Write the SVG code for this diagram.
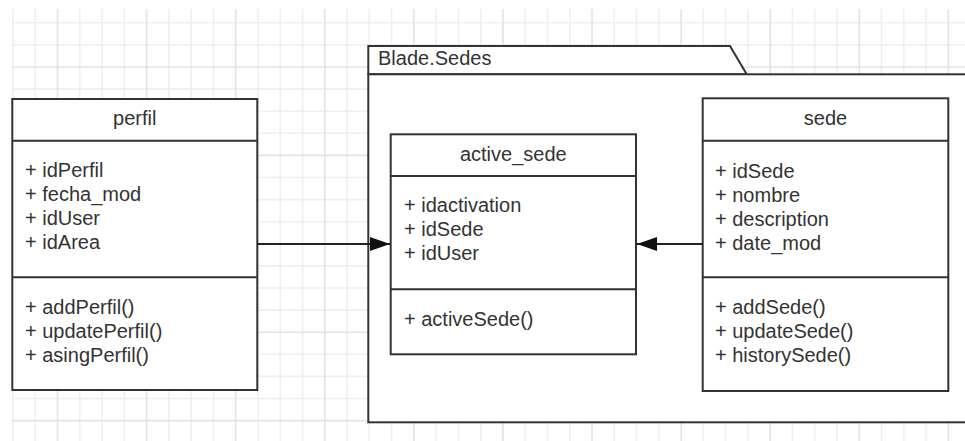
<svg xmlns="http://www.w3.org/2000/svg" width="965" height="441" viewBox="0 0 965 441">
<style>
.minor{stroke:#efefef;stroke-width:1.6;fill:none}
.major{stroke:#e3e3e3;stroke-width:1.6;fill:none}
.box{fill:#fff;stroke:#333;stroke-width:2}
.div{stroke:#333;stroke-width:2;fill:none}
.t{font-family:"Liberation Sans",Arial,sans-serif;font-size:20px;fill:#333}
.c{text-anchor:middle}
.edge{stroke:#222;stroke-width:2;fill:none}
</style>
<defs>
<marker id="arr" viewBox="0 0 20 14" refX="20" refY="7" markerWidth="20" markerHeight="14" markerUnits="userSpaceOnUse" orient="auto">
<path d="M0,0 L20,7 L0,14 Z" fill="#111"/>
</marker>
</defs>
<rect width="965" height="441" fill="#fff"/>
<g id="grid">
<path class="minor" d="M13,9V441M35.27,9V441M79.81,9V441M102.08,9V441M124.35,9V441M168.89,9V441M191.16,9V441M213.43,9V441M257.97,9V441M280.24,9V441M302.51,9V441M347.05,9V441M369.32,9V441M391.59,9V441M436.13,9V441M458.4,9V441M480.67,9V441M525.21,9V441M547.48,9V441M569.75,9V441M614.29,9V441M636.56,9V441M658.83,9V441M703.37,9V441M725.64,9V441M747.91,9V441M792.45,9V441M814.72,9V441M836.99,9V441M881.53,9V441M903.8,9V441M926.07,9V441
M12,22.8H965M12,44.9H965M12,89.1H965M12,111.2H965M12,133.3H965M12,177.5H965M12,199.6H965M12,221.7H965M12,265.9H965M12,288H965M12,310.1H965M12,354.3H965M12,376.4H965M12,398.5H965"/>
<path class="major" d="M57.54,9V441M146.62,9V441M235.7,9V441M324.78,9V441M413.86,9V441M502.94,9V441M592.02,9V441M681.1,9V441M770.18,9V441M859.26,9V441M948.34,9V441
M12,67H965M12,155.4H965M12,243.8H965M12,332.2H965M12,420.6H965"/>
</g>
<g id="package">
<path class="box" d="M368.3,74.3 V46 H730 L746.7,74.3 Z"/>
<rect class="box" x="368.3" y="74.3" width="620" height="348"/>
<text class="t" x="378" y="65">Blade.Sedes</text>
</g>
<g id="perfil">
<rect class="box" x="12.3" y="99" width="245" height="291"/>
<path class="div" d="M12.3,140.7H257.3M12.3,277.3H257.3"/>
<text class="t c" x="134.8" y="125">perfil</text>
<text class="t" x="25" y="177">+ idPerfil</text>
<text class="t" x="25" y="201">+ fecha_mod</text>
<text class="t" x="25" y="225">+ idUser</text>
<text class="t" x="25" y="249">+ idArea</text>
<text class="t" x="25" y="313.6">+ addPerfil()</text>
<text class="t" x="25" y="337.6">+ updatePerfil()</text>
<text class="t" x="25" y="361.6">+ asingPerfil()</text>
</g>
<g id="active_sede">
<rect class="box" x="390.7" y="134.3" width="245.3" height="220"/>
<path class="div" d="M390.7,176H636M390.7,289.3H636"/>
<text class="t c" x="513.3" y="160.5">active_sede</text>
<text class="t" x="404" y="212.3">+ idactivation</text>
<text class="t" x="404" y="236.3">+ idSede</text>
<text class="t" x="404" y="260.3">+ idUser</text>
<text class="t" x="404" y="325.6">+ activeSede()</text>
</g>
<g id="sede">
<rect class="box" x="702.7" y="98.3" width="245.6" height="292.7"/>
<path class="div" d="M702.7,140.7H948.3M702.7,277.3H948.3"/>
<text class="t c" x="825.5" y="124.5">sede</text>
<text class="t" x="715" y="177.5">+ idSede</text>
<text class="t" x="715" y="201.5">+ nombre</text>
<text class="t" x="715" y="225.5">+ description</text>
<text class="t" x="715" y="249.5">+ date_mod</text>
<text class="t" x="715" y="313.6">+ addSede()</text>
<text class="t" x="715" y="337.6">+ updateSede()</text>
<text class="t" x="715" y="361.6">+ historySede()</text>
</g>
<g id="connectors">
<path class="edge" d="M257.3,244H390" marker-end="url(#arr)"/>
<path class="edge" d="M702.7,244H637" marker-end="url(#arr)"/>
</g>
</svg>
